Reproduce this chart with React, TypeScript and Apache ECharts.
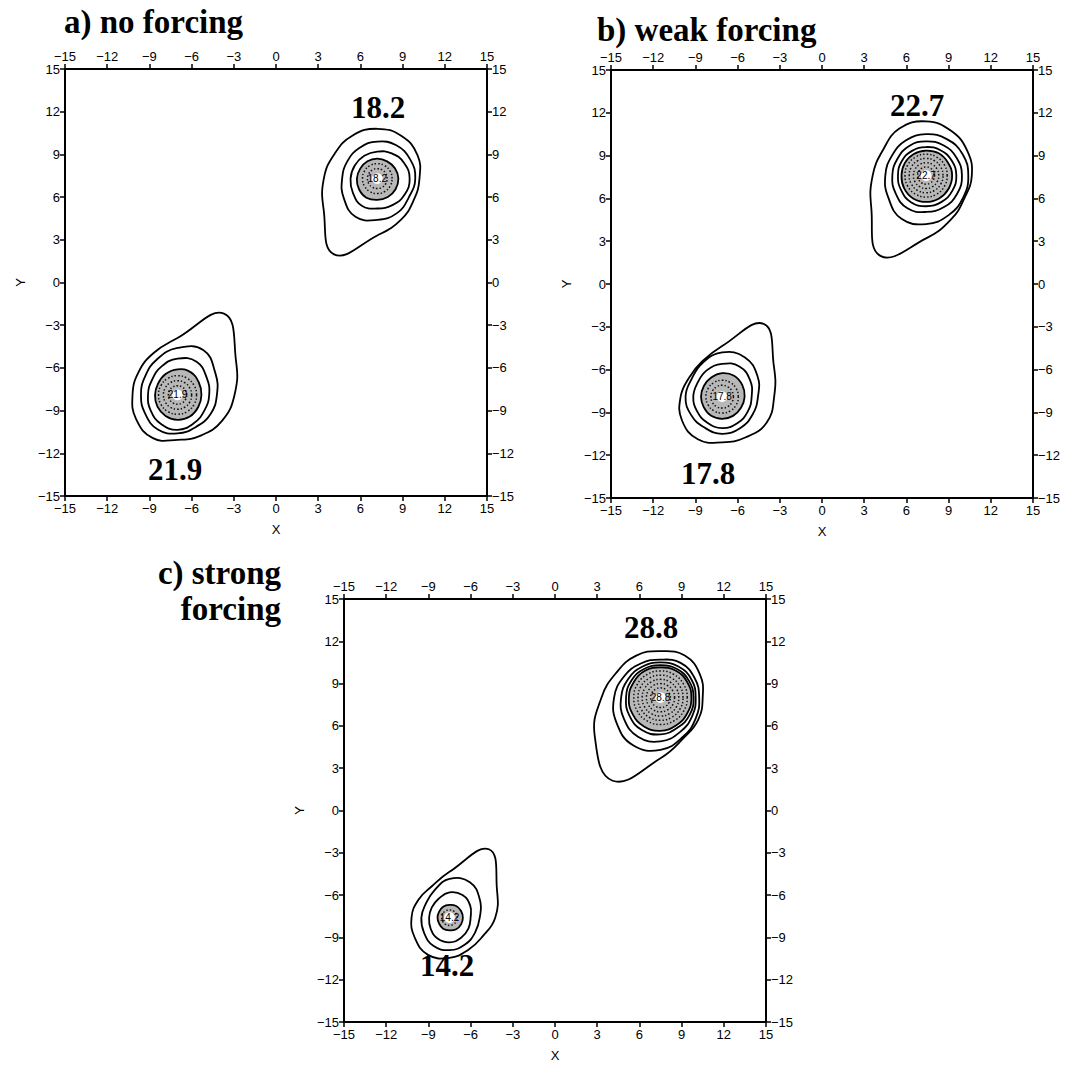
import React, { useEffect, useRef } from "react";
import * as echarts from "echarts";

// ---------- data ----------
const tickValues = [-15, -12, -9, -6, -3, 0, 3, 6, 9, 12, 15];
const contourAngles = [0, 30, 60, 90, 120, 150, 180, 210, 240, 270, 300, 330];

const panelTitles = ["a) no forcing", "b) weak forcing", "c) strong\nforcing"];
const peakValues = [[18.2, 21.9], [22.7, 17.8], [28.8, 14.2]];
const vortexCenters = [
  [[7.2, 7.3], [-7.0, -7.9]],
  [[7.4, 7.6], [-7.1, -7.9]],
  [[7.5, 8.0], [-7.5, -7.6]],
];

// contour radii (data units) at contourAngles around each vortex centre
const a1Lines = [
  [3.0, 3.3, 3.45, 3.5, 3.5, 3.5, 3.8, 4.4, 6.15, 4.0, 3.35, 3.0],
  [2.7, 2.7, 2.7, 2.6, 2.5, 2.45, 2.5, 2.75, 3.1, 2.9, 2.8, 2.6],
  [2.3, 2.2, 2.05, 1.9, 1.85, 1.85, 1.9, 2.0, 2.2, 2.1, 2.15, 2.25],
];
const a1Shade = [1.5, 1.45, 1.4, 1.4, 1.4, 1.4, 1.45, 1.5, 1.55, 1.5, 1.5, 1.5];
const a1Dots = [1.05, 0.7];

const a2Lines = [
  [4.05, 4.8, 6.6, 4.0, 3.4, 3.2, 3.2, 3.4, 3.5, 3.15, 3.3, 3.65],
  [2.8, 3.1, 3.65, 3.3, 2.9, 2.65, 2.6, 2.65, 2.8, 2.7, 2.6, 2.7],
  [2.25, 2.4, 2.7, 2.55, 2.3, 2.1, 2.1, 2.2, 2.35, 2.45, 2.3, 2.2],
];
const a2Shade = [1.7, 1.75, 1.85, 1.8, 1.7, 1.6, 1.6, 1.65, 1.7, 1.75, 1.75, 1.7];
const a2Dots = [1.35, 1.0, 0.65];

const b1Lines = [
  [3.25, 3.4, 3.6, 3.8, 3.8, 3.55, 3.8, 4.5, 6.5, 4.4, 3.55, 3.15],
  [3.0, 3.0, 2.95, 2.9, 2.85, 2.8, 2.9, 3.1, 3.5, 3.4, 3.2, 3.05],
  [2.55, 2.5, 2.45, 2.4, 2.4, 2.35, 2.4, 2.5, 2.65, 2.55, 2.55, 2.55],
  [2.15, 2.1, 2.05, 2.0, 2.0, 2.0, 2.0, 2.05, 2.15, 2.15, 2.15, 2.15],
];
const b1Shade = [1.85, 1.8, 1.8, 1.75, 1.75, 1.75, 1.75, 1.8, 1.85, 1.85, 1.85, 1.85];
const b1Dots = [1.5, 1.2, 0.9, 0.6];

const b2Lines = [
  [3.7, 4.25, 5.9, 3.55, 2.85, 2.7, 2.95, 3.3, 3.45, 3.2, 3.3, 3.65],
  [2.55, 2.9, 3.2, 3.1, 2.75, 2.5, 2.6, 2.55, 2.5, 2.6, 2.55, 2.5],
  [2.1, 2.3, 2.45, 2.3, 2.15, 2.0, 2.05, 2.05, 2.1, 2.2, 2.15, 2.1],
];
const b2Shade = [1.6, 1.65, 1.7, 1.65, 1.55, 1.5, 1.5, 1.5, 1.55, 1.55, 1.55, 1.55];
const b2Dots = [1.15, 0.8];

const c1Lines = [
  [3.0, 3.25, 3.45, 3.3, 3.45, 3.6, 4.2, 5.4, 6.8, 4.3, 3.3, 3.1],
  [2.75, 2.8, 2.85, 2.7, 2.8, 3.0, 3.3, 3.6, 3.9, 3.7, 3.2, 2.9],
  [2.5, 2.55, 2.55, 2.5, 2.55, 2.65, 2.8, 3.0, 3.2, 3.1, 2.8, 2.6],
  [2.35, 2.35, 2.35, 2.3, 2.35, 2.4, 2.45, 2.55, 2.65, 2.6, 2.45, 2.4],
];
const c1Shade = [2.2, 2.2, 2.2, 2.15, 2.2, 2.2, 2.25, 2.3, 2.35, 2.35, 2.25, 2.2];
const c1Dots = [1.9, 1.6, 1.3, 1.0, 0.7];

const c2Lines = [
  [3.25, 3.9, 5.6, 3.25, 2.55, 2.55, 2.7, 2.85, 3.05, 2.85, 2.65, 2.7],
  [2.15, 2.5, 2.9, 2.75, 2.2, 1.95, 2.0, 2.1, 2.3, 2.3, 2.2, 2.1],
  [1.5, 1.7, 1.85, 1.8, 1.55, 1.45, 1.45, 1.55, 1.7, 1.75, 1.65, 1.55],
];
const c2Shade = [0.95, 0.95, 0.95, 0.9, 0.9, 0.85, 0.85, 0.85, 0.9, 0.9, 0.95, 0.95];
const c2Dots = [0.55];

const panelLines = [[a1Lines, a2Lines], [b1Lines, b2Lines], [c1Lines, c2Lines]];
const panelShades = [[a1Shade, a2Shade], [b1Shade, b2Shade], [c1Shade, c2Shade]];
const panelDots = [[a1Dots, a2Dots], [b1Dots, b2Dots], [c1Dots, c2Dots]];

// ---------- layout ----------
const grids = [
  { left: 65, top: 69, width: 422, height: 427 },
  { left: 611, top: 70, width: 422, height: 428 },
  { left: 344, top: 599, width: 422, height: 423 },
];
const peakLabelPos = [
  [[378, 107], [175, 469]],
  [[917, 105], [708, 473]],
  [[651, 627], [447, 965]],
];
const serifBold = 'bold 31px "Liberation Serif", "Times New Roman", serif';
const titleFont = 'bold 33px "Liberation Serif", "Times New Roman", serif';
const tickFont = '"Liberation Sans", Arial, sans-serif';

function fmt(v: number) {
  return v < 0 ? "\u2212" + Math.abs(v) : String(v);
}

type Item = { kind: string; cx: number; cy: number; r: number[]; text?: string };

function buildItems(p: number): Item[] {
  const items: Item[] = [];
  for (let v = 0; v < 2; v++) {
    const [cx, cy] = vortexCenters[p][v];
    panelLines[p][v].forEach((r) => items.push({ kind: "line", cx, cy, r }));
    items.push({ kind: "shade", cx, cy, r: panelShades[p][v] });
    panelDots[p][v].forEach((rr) =>
      items.push({ kind: "dot", cx, cy, r: contourAngles.map(() => rr) })
    );
    items.push({ kind: "hole", cx, cy, r: [0.38] });
    items.push({ kind: "label", cx, cy, r: [0], text: String(peakValues[p][v]) });
  }
  return items;
}

function axisBase(i: number, margin: number) {
  return {
    type: "value",
    gridIndex: i,
    min: tickValues[0],
    max: tickValues[tickValues.length - 1],
    interval: tickValues[1] - tickValues[0],
    axisLine: { show: true, onZero: false, lineStyle: { color: "#000", width: 2 } },
    axisTick: { show: true, inside: false, length: 5, lineStyle: { color: "#000", width: 1.5 } },
    axisLabel: {
      color: "#000",
      fontSize: 13,
      fontFamily: tickFont,
      margin,
      formatter: fmt,
    },
    splitLine: { show: false },
  };
}

function buildOption() {
  const xAxis: any[] = [];
  const yAxis: any[] = [];
  const series: any[] = [];
  const graphic: any[] = [];
  grids.forEach((_, i) => {
    xAxis.push({
      ...axisBase(i, 6),
      position: "bottom",
      name: "X",
      nameLocation: "middle",
      nameGap: 27,
      nameTextStyle: { color: "#000", fontSize: 13, fontFamily: tickFont },
    });
    xAxis.push({ ...axisBase(i, 6), position: "top" });
    yAxis.push({
      ...axisBase(i, 5),
      position: "left",
      name: "Y",
      nameLocation: "middle",
      nameGap: 38,
      nameTextStyle: { color: "#000", fontSize: 13, fontFamily: tickFont },
    });
    yAxis.push({ ...axisBase(i, 5), position: "right" });

    const items = buildItems(i);
    series.push({
      type: "custom",
      coordinateSystem: "cartesian2d",
      xAxisIndex: 2 * i,
      yAxisIndex: 2 * i,
      silent: true,
      clip: true,
      data: items.map((it, k) => [it.cx, it.cy, k]),
      renderItem: (params: any, api: any) => {
        const it = items[api.value(2)];
        const c = api.coord([it.cx, it.cy]);
        if (it.kind === "hole") {
          const rp = api.size([it.r[0], 0])[0];
          return { type: "circle", shape: { cx: c[0], cy: c[1], r: rp }, style: { fill: "#fff" } };
        }
        if (it.kind === "label") {
          return {
            type: "text",
            x: c[0],
            y: c[1],
            style: {
              text: it.text,
              font: '10px "Liberation Sans", Arial',
              fill: "#000",
              textAlign: "center",
              textVerticalAlign: "middle",
            },
          };
        }
        const pts = contourAngles.map((a, k) => {
          const t = (a * Math.PI) / 180;
          return api.coord([it.cx + it.r[k] * Math.cos(t), it.cy + it.r[k] * Math.sin(t)]);
        });
        let style: any = { fill: "none", stroke: "#000", lineWidth: 1.8 };
        if (it.kind === "shade") style = { fill: "#b8b8b8", stroke: "#000", lineWidth: 1.8 };
        if (it.kind === "dot") style = { fill: "none", stroke: "#111", lineWidth: 1.5, lineDash: [1.5, 2] };
        return { type: "polygon", shape: { points: pts, smooth: 0.45 }, style };
      },
    });

    // peak labels
    peakValues[i].forEach((pv, v) => {
      const [x, y] = peakLabelPos[i][v];
      graphic.push({
        type: "text",
        x,
        y,
        style: { text: String(pv), font: serifBold, fill: "#000", textAlign: "center", textVerticalAlign: "middle" },
      });
    });
  });

  graphic.push({
    type: "text",
    x: 64,
    y: 22,
    style: { text: panelTitles[0], font: titleFont, fill: "#000", textAlign: "left", textVerticalAlign: "middle" },
  });
  graphic.push({
    type: "text",
    x: 597,
    y: 30,
    style: { text: panelTitles[1], font: titleFont, fill: "#000", textAlign: "left", textVerticalAlign: "middle" },
  });
  const cLines = panelTitles[2].split("\n");
  graphic.push({
    type: "text",
    x: 281,
    y: 573,
    style: { text: cLines[0], font: titleFont, fill: "#000", textAlign: "right", textVerticalAlign: "middle" },
  });
  graphic.push({
    type: "text",
    x: 281,
    y: 609,
    style: { text: cLines[1], font: titleFont, fill: "#000", textAlign: "right", textVerticalAlign: "middle" },
  });

  return {
    animation: false,
    backgroundColor: "#fff",
    grid: grids.map((g) => ({ ...g, containLabel: false })),
    xAxis,
    yAxis,
    series,
    graphic,
  };
}

export default function App() {
  const ref = useRef<HTMLDivElement>(null);
  useEffect(() => {
    if (!ref.current) return;
    const chart = echarts.init(ref.current, null, { renderer: "svg" });
    chart.setOption(buildOption() as any);
    return () => chart.dispose();
  }, []);
  return (
    <div
      ref={ref}
      style={{ position: "absolute", left: 0, top: 0, width: 1076, height: 1065, background: "#fff" }}
    />
  );
}
